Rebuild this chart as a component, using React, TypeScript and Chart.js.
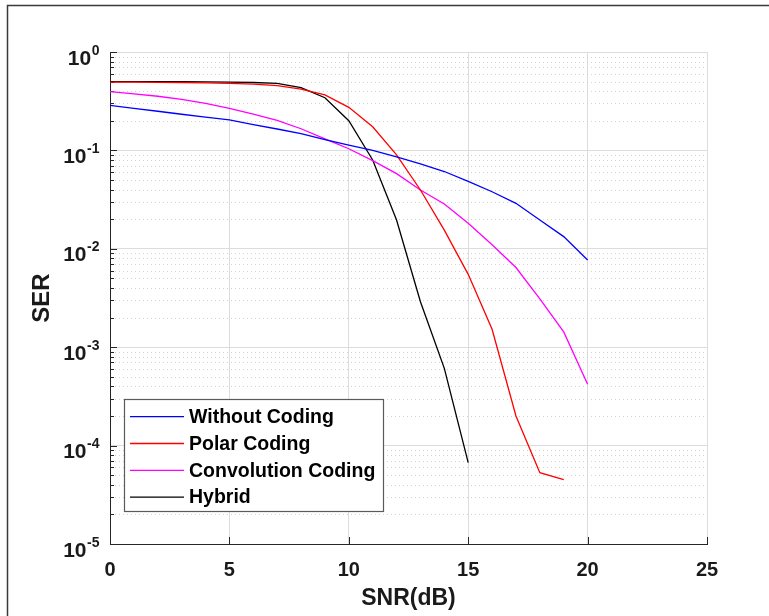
import React, { useEffect, useRef } from 'react';
import { Chart, registerables } from 'chart.js';

Chart.register(...registerables);

// ---------- data ----------
const SNR = [0, 1, 2, 3, 4, 5, 6, 7, 8, 9, 10, 11, 12, 13, 14, 15, 16, 17, 18, 19, 20];

const withoutCoding = [0.287, 0.268, 0.25, 0.233, 0.218, 0.204, 0.183, 0.165, 0.148, 0.129, 0.113, 0.1, 0.086, 0.073, 0.061, 0.0485, 0.038, 0.029, 0.0196, 0.0133, 0.0077];
const polarCoding = [0.495, 0.494, 0.492, 0.49, 0.486, 0.48, 0.472, 0.455, 0.42, 0.366, 0.274, 0.174, 0.09, 0.0396, 0.0155, 0.0055, 0.00152, 0.0002, 0.000053, 0.000045];
const convolutionCoding = [0.395, 0.375, 0.355, 0.33, 0.301, 0.268, 0.234, 0.202, 0.166, 0.131, 0.104, 0.0786, 0.058, 0.0396, 0.0285, 0.0182, 0.011, 0.00645, 0.0031, 0.00143, 0.00042];
const hybrid = [0.5, 0.5, 0.5, 0.499, 0.497, 0.494, 0.49, 0.48, 0.434, 0.343, 0.2, 0.08, 0.0196, 0.0029, 0.00061, 0.000067];

const SERIES_LABELS = ['Without Coding', 'Polar Coding', 'Convolution Coding', 'Hybrid'];
const SERIES_COLORS = ['#0000ff', '#ff0000', '#ff00ff', '#000000'];
const SERIES_VALUES = [withoutCoding, polarCoding, convolutionCoding, hybrid];

const X_MIN = 0;
const X_MAX = 25;
const X_STEP = 5;
const Y_DECADES = [1, 0.1, 0.01, 0.001, 0.0001, 0.00001];
const Y_EXPONENTS = ['0', '-1', '-2', '-3', '-4', '-5'];
const X_TITLE = 'SNR(dB)';
const Y_TITLE = 'SER';

const FONT = '"Liberation Sans", Arial, Helvetica, sans-serif';

const matlabPlugin = {
  id: 'matlabStyle',
  beforeDraw(chart: any) {
    const { ctx, width, height } = chart;
    ctx.save();
    ctx.fillStyle = '#ffffff';
    ctx.fillRect(0, 0, width, height);
    ctx.strokeStyle = '#3a3a3a';
    ctx.lineWidth = 1.5;
    ctx.beginPath();
    ctx.moveTo(7.5, height);
    ctx.lineTo(7.5, 5.5);
    ctx.lineTo(width, 5.5);
    ctx.stroke();
    ctx.restore();
  },
  beforeDatasetsDraw(chart: any) {
    const { ctx, chartArea, scales } = chart;
    const { left, right, bottom } = chartArea;
    const y = scales.y;
    const x = scales.x;
    ctx.save();
    // minor dotted grid
    ctx.strokeStyle = '#d2d2d2';
    ctx.lineWidth = 1;
    ctx.setLineDash([1, 3]);
    for (let i = 1; i < Y_DECADES.length; i++) {
      const d = Y_DECADES[i];
      for (let m = 2; m <= 9; m++) {
        const py = Math.round(y.getPixelForValue(d * m)) + 0.5;
        ctx.beginPath();
        ctx.moveTo(left + 1, py);
        ctx.lineTo(right, py);
        ctx.stroke();
      }
    }
    ctx.setLineDash([]);
    // inward ticks
    ctx.strokeStyle = '#262626';
    ctx.lineWidth = 1;
    for (let i = 0; i < Y_DECADES.length; i++) {
      const d = Y_DECADES[i];
      const py = Math.round(y.getPixelForValue(d)) + 0.5;
      ctx.beginPath();
      ctx.moveTo(left, py);
      ctx.lineTo(left + 7, py);
      ctx.stroke();
      if (i > 0) {
        for (let m = 2; m <= 9; m++) {
          const pm = Math.round(y.getPixelForValue(d * m)) + 0.5;
          ctx.beginPath();
          ctx.moveTo(left, pm);
          ctx.lineTo(left + 4, pm);
          ctx.stroke();
        }
      }
    }
    for (let v = X_MIN; v <= X_MAX; v += X_STEP) {
      const px = Math.round(x.getPixelForValue(v)) + 0.5;
      ctx.beginPath();
      ctx.moveTo(px, bottom);
      ctx.lineTo(px, bottom - 7);
      ctx.stroke();
    }
    ctx.restore();
  },
  afterDraw(chart: any) {
    const { ctx, scales } = chart;
    const y = scales.y;
    ctx.save();
    // y tick labels with superscripts
    ctx.fillStyle = '#1a1a1a';
    const rightEdge = 99.5;
    for (let i = 0; i < Y_DECADES.length; i++) {
      const py = y.getPixelForValue(Y_DECADES[i]);
      ctx.font = `bold 14px ${FONT}`;
      const supW = ctx.measureText(Y_EXPONENTS[i]).width;
      ctx.textAlign = 'right';
      ctx.textBaseline = 'alphabetic';
      ctx.fillText(Y_EXPONENTS[i], rightEdge, py + 2.5);
      ctx.font = `bold 21px ${FONT}`;
      ctx.fillText('10', rightEdge - supW - 0.5, py + 12.5);
    }
    // legend
    const bx = 124.5, by = 399.5, bw = 259, bh = 112;
    ctx.fillStyle = '#ffffff';
    ctx.fillRect(bx, by, bw, bh);
    ctx.strokeStyle = '#5a5a5a';
    ctx.lineWidth = 1.2;
    ctx.strokeRect(bx, by, bw, bh);
    const ds = chart.data.datasets;
    for (let i = 0; i < ds.length; i++) {
      const ry = 416.7 + i * 26.8;
      ctx.strokeStyle = ds[i].borderColor;
      ctx.lineWidth = 1.3;
      ctx.beginPath();
      ctx.moveTo(130, ry);
      ctx.lineTo(184, ry);
      ctx.stroke();
      ctx.fillStyle = '#000000';
      ctx.font = `bold 19.5px ${FONT}`;
      ctx.textAlign = 'left';
      ctx.textBaseline = 'middle';
      ctx.fillText(ds[i].label, 189, ry + 1);
    }
    ctx.restore();
  },
};

export default function App() {
  const canvasRef = useRef<HTMLCanvasElement | null>(null);

  useEffect(() => {
    const canvas = canvasRef.current;
    if (!canvas) return;
    const datasets = SERIES_VALUES.map((vals, i) => ({
      label: SERIES_LABELS[i],
      data: vals.map((v, j) => ({ x: SNR[j], y: v })),
      borderColor: SERIES_COLORS[i],
      backgroundColor: SERIES_COLORS[i],
      borderWidth: 1.3,
      pointRadius: 0,
      tension: 0,
      fill: false,
    }));
    const chart = new Chart(canvas, {
      type: 'line',
      data: { datasets },
      plugins: [matlabPlugin],
      options: {
        animation: false,
        responsive: false,
        devicePixelRatio: 1,
        layout: { padding: { left: 0, top: 52, right: 62, bottom: 0 } },
        plugins: { legend: { display: false }, tooltip: { enabled: false } },
        scales: {
          x: {
            type: 'linear',
            min: X_MIN,
            max: X_MAX,
            ticks: {
              stepSize: X_STEP,
              color: '#1a1a1a',
              font: { family: FONT, weight: 'bold', size: 20 },
              padding: 14,
              maxRotation: 0,
            },
            grid: { color: '#dcdcdc', lineWidth: 1, drawTicks: false },
            border: { color: '#262626', width: 1 },
            title: {
              display: true,
              text: X_TITLE,
              color: '#1a1a1a',
              font: { family: FONT, weight: 'bold', size: 23 },
              padding: { top: 0, bottom: 4 },
            },
            afterFit: (scale: any) => { scale.height = 72; },
          },
          y: {
            type: 'logarithmic',
            min: 0.00001,
            max: 1,
            afterBuildTicks: (scale: any) => {
              scale.ticks = Y_DECADES.map((v) => ({ value: v, major: true }));
            },
            ticks: { display: false },
            grid: { color: '#dcdcdc', lineWidth: 1, drawTicks: false },
            border: { color: '#262626', width: 1 },
            title: {
              display: true,
              text: Y_TITLE,
              color: '#1a1a1a',
              font: { family: FONT, weight: 'bold', size: 24 },
              padding: { top: 28, bottom: 0 },
            },
            afterFit: (scale: any) => { scale.width = 110; },
          },
        },
      } as any,
    });
    return () => chart.destroy();
  }, []);

  return (
    <div style={{ position: 'fixed', left: 0, top: 0, width: 769, height: 616, background: '#fff' }}>
      <canvas ref={canvasRef} width={769} height={616} style={{ width: 769, height: 616, display: 'block' }} />
    </div>
  );
}
